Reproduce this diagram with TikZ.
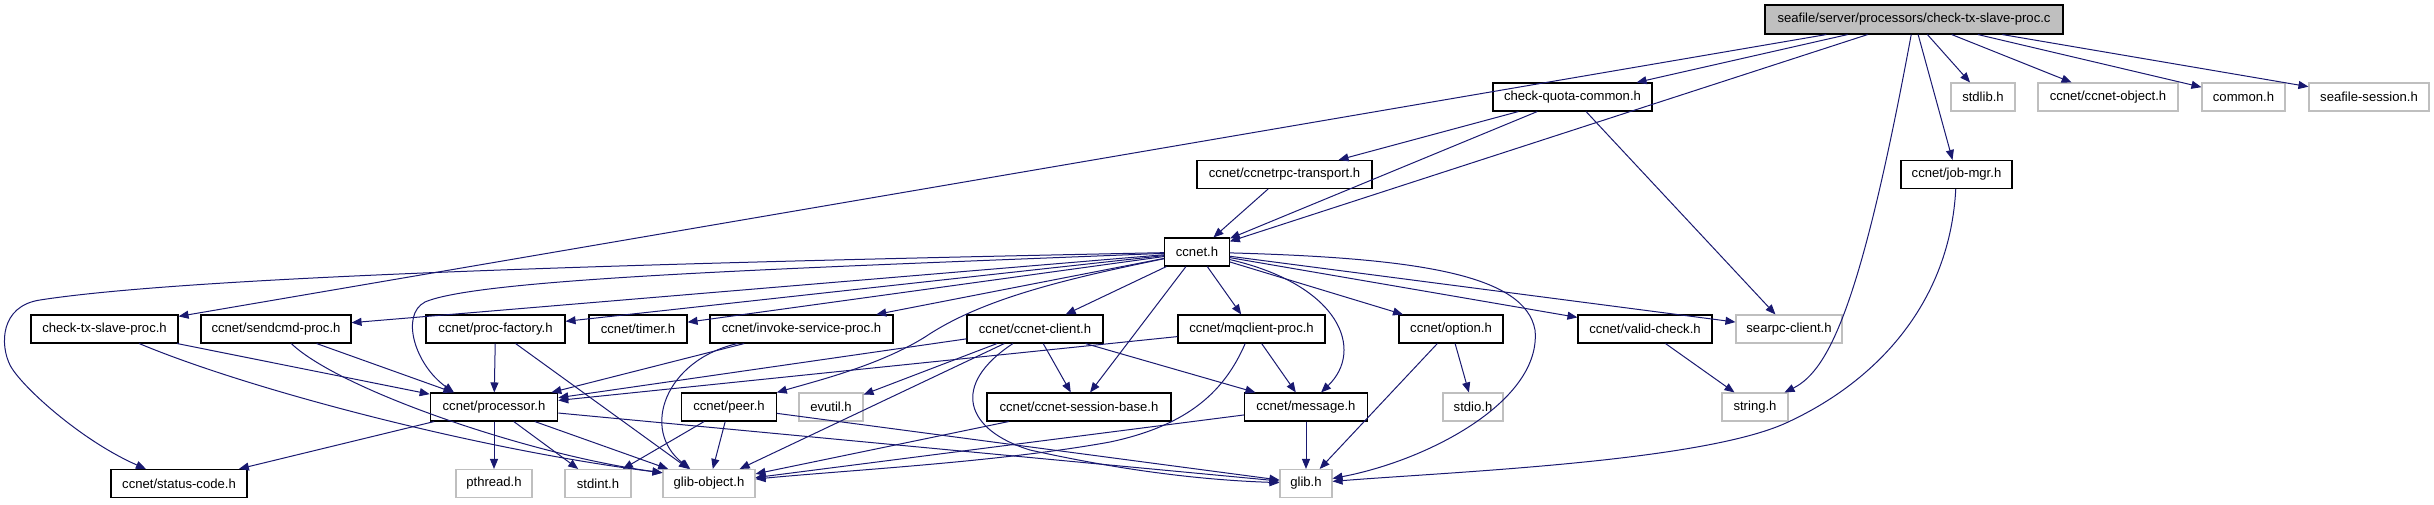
\documentclass[tikz,border=0pt]{standalone}
\usepackage{fontspec}
\setmainfont{Liberation Sans}
\usetikzlibrary{arrows.meta}

\definecolor{edgeblue}{HTML}{191970}
\definecolor{boxgray}{HTML}{BFBFBF}
\newcommand{\incfont}{\fontsize{13.1}{15}\selectfont}

\tikzset{
  hdr/.style={draw=black, fill=white, line width=1.1pt, minimum height=28pt, inner sep=0pt, font=\incfont},
  sys/.style={hdr, draw=boxgray},
  src/.style={hdr, fill=boxgray, minimum height=29pt},
  dep/.style={->, edgeblue, line width=1pt},
}

\begin{document}
\begin{tikzpicture}[x=1pt, y=-1pt, >={Triangle[length=10pt,width=8pt]}]
\useasboundingbox (0,0) rectangle (2434,504);

\node[src, minimum width=298pt] (txc) at (1914,19.5) {seafile/server/processors/check-tx-slave-proc.c};

\node[hdr, minimum width=159pt] (quota) at (1572.5,97) {check-quota-common.h};
\node[sys, minimum width=64pt] (stdlib) at (1983,97) {stdlib.h};
\node[sys, minimum width=140pt] (ccobj) at (2108,97) {ccnet/ccnet-object.h};
\node[sys, minimum width=83pt] (common) at (2243.5,97) {common.h};
\node[sys, minimum width=120pt] (session) at (2369,97) {seafile-session.h};

\node[hdr, minimum width=175pt] (rpctrans) at (1284.5,174.5) {ccnet/ccnetrpc-transport.h};
\node[hdr, minimum width=111pt] (jobmgr) at (1956.5,174.5) {ccnet/job-mgr.h};

\node[hdr, minimum width=64.5pt] (ccnet) at (1197,252) {ccnet.h};

\node[hdr, minimum width=147pt] (txh) at (104.5,329) {check-tx-slave-proc.h};
\node[hdr, minimum width=150pt] (sendcmd) at (276,329) {ccnet/sendcmd-proc.h};
\node[hdr, minimum width=139pt] (procfac) at (495.5,329) {ccnet/proc-factory.h};
\node[hdr, minimum width=98pt] (timer) at (638,329) {ccnet/timer.h};
\node[hdr, minimum width=183pt] (invoke) at (801.5,329) {ccnet/invoke-service-proc.h};
\node[hdr, minimum width=136pt] (client) at (1035,329) {ccnet/ccnet-client.h};
\node[hdr, minimum width=147pt] (mqclient) at (1251.5,329) {ccnet/mqclient-proc.h};
\node[hdr, minimum width=104pt] (option) at (1451,329) {ccnet/option.h};
\node[hdr, minimum width=134pt] (valid) at (1645,329) {ccnet/valid-check.h};
\node[sys, minimum width=106pt] (searpc) at (1789,329) {searpc-client.h};

\node[hdr, minimum width=127.5pt] (processor) at (494,407) {ccnet/processor.h};
\node[hdr, minimum width=94.5pt] (peer) at (729,407) {ccnet/peer.h};
\node[sys, minimum width=64pt] (evutil) at (831,407) {evutil.h};
\node[hdr, minimum width=184pt] (sessbase) at (1079,407) {ccnet/ccnet-session-base.h};
\node[hdr, minimum width=123pt] (message) at (1306,407) {ccnet/message.h};
\node[sys, minimum width=60pt] (stdio) at (1473,407) {stdio.h};
\node[sys, minimum width=66pt] (string) at (1755,407) {string.h};

\node[hdr, minimum width=136pt] (status) at (179,483.5) {ccnet/status-code.h};
\node[sys, minimum width=76pt] (pthread) at (494,483.5) {pthread.h};
\node[sys, minimum width=66pt] (stdint) at (598,483.5) {stdint.h};
\node[sys, minimum width=92pt] (gobject) at (709,483.5) {glib-object.h};
\node[sys, minimum width=52pt] (glib) at (1306,483.5) {glib.h};

% source file
\path[dep] (txc) edge (quota) (txc) edge (txh) (txc) edge (ccnet)
  (txc) edge (jobmgr) (txc) edge (stdlib) (txc) edge (ccobj)
  (txc) edge (common) (txc) edge (session);
\draw[dep] (txc) .. controls (1862,300) and (1830,370) .. (string);

% check-quota-common.h, transport, job-mgr
\path[dep] (quota) edge (rpctrans) (quota) edge (ccnet) (quota) edge (searpc);
\path[dep] (rpctrans) edge (ccnet);
\draw[dep] (jobmgr) .. controls (1950,300) and (1880,380) .. (1786,423)
  .. controls (1700,462) and (1450,472) .. (glib);

% ccnet.h
\path[dep] (ccnet) edge (sendcmd) (ccnet) edge (procfac) (ccnet) edge (timer)
  (ccnet) edge (invoke) (ccnet) edge (client) (ccnet) edge (sessbase)
  (ccnet) edge (mqclient) (ccnet) edge (option) (ccnet) edge (valid)
  (ccnet) edge (searpc);
\draw[dep] (ccnet) .. controls (700,262) and (200,275) .. (40,300)
  .. controls (0,306) and (0,345) .. (10,365)
  .. controls (20,385) and (80,440) .. (status);
\draw[dep] (ccnet) .. controls (800,268) and (480,278) .. (425,302)
  .. controls (400,315) and (415,365) .. (processor.160);
\draw[dep] (ccnet) .. controls (1060,280) and (980,300) .. (925,337)
  .. controls (880,365) and (820,380) .. (peer.north east);
\draw[dep] (ccnet) .. controls (1340,285) and (1365,350) .. (message);
\draw[dep] (ccnet) .. controls (1420,258) and (1525,275) .. (1535,330)
  .. controls (1542,400) and (1430,460) .. (glib);

% second row
\path[dep] (txh) edge (processor);
\draw[dep] (txh) .. controls (250,390) and (480,450) .. (gobject.167);
\path[dep] (sendcmd) edge (processor);
\draw[dep] (sendcmd) .. controls (340,390) and (530,455) .. (gobject.167);
\path[dep] (procfac) edge (processor) (procfac) edge (gobject);
\path[dep] (invoke) edge (processor);
\draw[dep] (invoke) .. controls (665,360) and (640,430) .. (gobject);
\path[dep] (client) edge (processor) (client) edge (evutil) (client) edge (sessbase)
  (client) edge (message) (client) edge (gobject);
\draw[dep] (client) .. controls (950,385) and (965,430) .. (1030,450)
  .. controls (1120,470) and (1200,480) .. (glib);
\path[dep] (mqclient) edge (processor) (mqclient) edge (message);
\draw[dep] (mqclient) .. controls (1225,390) and (1190,425) .. (1110,442)
  .. controls (1000,462) and (850,470) .. (gobject);
\path[dep] (option) edge (stdio) (option) edge (glib);
\path[dep] (valid) edge (string);

% third row
\path[dep] (processor) edge (status) (processor) edge (pthread) (processor) edge (stdint)
  (processor) edge (gobject) (processor) edge (glib);
\path[dep] (peer) edge (stdint) (peer) edge (gobject) (peer) edge (glib);
\path[dep] (sessbase) edge (gobject);
\path[dep] (message) edge (gobject) (message) edge (glib);
\end{tikzpicture}
\end{document}
